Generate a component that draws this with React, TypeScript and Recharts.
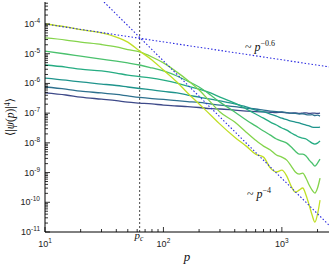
import { Line, LineChart, ReferenceLine, XAxis, YAxis } from 'recharts';

// momentum grid shared by every curve
const P = [
  10, 15, 20, 30, 40, 50, 63, 80, 100, 130, 160, 200, 250, 300, 400, 500, 600, 700,
  800, 900, 1000, 1100, 1200, 1300, 1400, 1500, 1600, 1700, 1800, 1900, 2000, 2100,
];

// log10 <|psi(p)|^4>, from top-left (yellow) to bottom-left (navy)
const LOG_C1 = [-4.0, -4.1, -4.19, -4.3, -4.44, -4.61, -4.91, -5.21, -5.55, -5.95, -6.32, -6.69, -7.06, -7.37, -7.81, -8.11, -8.38, -8.48, -8.85, -8.98, -8.92, -9.12, -9.46, -9.66, -9.59, -9.52, -9.76, -10.09, -10.43, -10.67, -10.4, -9.93];
const LOG_C2 = [-4.47, -4.54, -4.61, -4.69, -4.77, -4.86, -4.94, -5.11, -5.31, -5.62, -5.89, -6.22, -6.63, -6.96, -7.3, -7.64, -7.91, -8.11, -8.24, -8.41, -8.48, -8.58, -8.78, -8.98, -9.05, -9.02, -9.19, -9.42, -9.59, -9.69, -9.52, -9.19];
const LOG_C3 = [-4.91, -5.01, -5.08, -5.18, -5.25, -5.31, -5.38, -5.48, -5.58, -5.75, -5.92, -6.12, -6.39, -6.63, -6.96, -7.23, -7.43, -7.6, -7.74, -7.87, -7.94, -8.01, -8.14, -8.28, -8.38, -8.38, -8.44, -8.58, -8.68, -8.78, -8.68, -8.55];
const LOG_C4 = [-5.38, -5.45, -5.52, -5.58, -5.65, -5.72, -5.77, -5.82, -5.89, -5.99, -6.09, -6.19, -6.32, -6.46, -6.66, -6.86, -7.03, -7.17, -7.3, -7.4, -7.5, -7.57, -7.67, -7.74, -7.81, -7.84, -7.87, -7.94, -8.01, -8.04, -8.01, -7.94];
const LOG_C5 = [-5.82, -5.89, -5.95, -6.02, -6.07, -6.12, -6.17, -6.22, -6.27, -6.32, -6.39, -6.46, -6.53, -6.59, -6.69, -6.79, -6.9, -6.96, -7.03, -7.1, -7.17, -7.22, -7.27, -7.3, -7.33, -7.37, -7.4, -7.43, -7.47, -7.48, -7.48, -7.47];
const LOG_C6 = [-6.12, -6.19, -6.26, -6.32, -6.37, -6.42, -6.47, -6.51, -6.54, -6.58, -6.61, -6.64, -6.69, -6.73, -6.78, -6.83, -6.86, -6.9, -6.93, -6.95, -6.96, -6.98, -7.0, -7.01, -7.03, -7.02, -7.05, -7.06, -7.05, -7.08, -7.07, -7.1];
const LOG_C7 = [-6.32, -6.39, -6.46, -6.53, -6.58, -6.63, -6.66, -6.69, -6.73, -6.76, -6.78, -6.81, -6.85, -6.86, -6.9, -6.93, -6.95, -6.96, -6.97, -6.98, -6.97, -6.99, -7.0, -6.99, -7.01, -7.0, -6.99, -7.01, -7.0, -7.0, -7.01, -7.0];

const CURVES = [LOG_C7, LOG_C6, LOG_C5, LOG_C4, LOG_C3, LOG_C2, LOG_C1];
const COLORS = ['#3e4a89', '#2d708e', '#1f948c', '#25ac82', '#4ac16d', '#84d44b', '#c0df25'];

// power-law guides (end points)
const GUIDE_06 = [{ p: 10, v: 1e-4 }, { p: 2500, v: 3.6e-6 }];
const GUIDE_4 = [{ p: 31.5, v: 5.5e-4 }, { p: 2500, v: 1.7e-11 }];
const P_C = 63;

const X_MAJOR = [10, 100, 1000];
const X_MINOR = [20, 30, 40, 50, 60, 70, 80, 90, 200, 300, 400, 500, 600, 700, 800, 900, 2000];
const Y_EXP = [-11, -10, -9, -8, -7, -6, -5, -4];

const Y_MAJOR = Y_EXP.map((e) => Math.pow(10, e));
const Y_MINOR: number[] = [];
Y_EXP.forEach((e) => {
  for (let m = 2; m <= 9; m++) {
    const v = m * Math.pow(10, e);
    if (v < 5.5e-4) Y_MINOR.push(v);
  }
});

const data = P.map((p, i) => {
  const row: Record<string, number> = { p };
  CURVES.forEach((c, j) => {
    row[`c${j}`] = Math.pow(10, c[i]);
  });
  return row;
});

const TICK_FONT = '"Liberation Sans", Arial, sans-serif';
const MATH_FONT = '"Liberation Serif", "DejaVu Serif", serif';
const GUIDE_BLUE = '#2a2ae0';

const XTick = (props: any) => {
  const { x, y, payload } = props;
  const major = X_MAJOR.includes(payload.value);
  const exp = Math.round(Math.log10(payload.value));
  return (
    <g>
      <line x1={x} y1={y} x2={x} y2={y - (major ? 5 : 3)} stroke="#000" strokeWidth={0.8} />
      {major && (
        <text x={x} y={y + 15} textAnchor="middle" fontSize={9} fill="#222" fontFamily={TICK_FONT}>
          10
          <tspan dy={-4} fontSize={6.5}>{exp}</tspan>
        </text>
      )}
    </g>
  );
};

const YTick = (props: any) => {
  const { x, y, payload } = props;
  const exp = Math.round(Math.log10(payload.value));
  const major = Math.abs(Math.log10(payload.value) - exp) < 1e-6;
  return (
    <g>
      <line x1={x} y1={y} x2={x + (major ? 5 : 3)} y2={y} stroke="#000" strokeWidth={0.8} />
      {major && (
        <text x={x - 5} y={y + 3} textAnchor="end" fontSize={9} fill="#222" fontFamily={TICK_FONT}>
          10
          <tspan dy={-4} fontSize={6.5}>{exp}</tspan>
        </text>
      )}
    </g>
  );
};

export default function App() {
  return (
    <div style={{ position: 'absolute', left: 0, top: 0, width: 332, height: 269, background: '#fff' }}>
      <LineChart width={332} height={269} data={data} margin={{ top: 2, right: 3, bottom: 0, left: 0 }}>
        <XAxis
          dataKey="p"
          type="number"
          scale="log"
          domain={[10, 2500]}
          allowDataOverflow
          ticks={[...X_MAJOR, ...X_MINOR]}
          interval={0}
          tick={(props: any) => <XTick {...props} />}
          tickLine={false}
          tickSize={0}
          tickMargin={0}
          height={37}
          axisLine={{ stroke: '#000' }}
        />
        <XAxis
          xAxisId="top"
          orientation="top"
          dataKey="p"
          type="number"
          scale="log"
          domain={[10, 2500]}
          allowDataOverflow
          tick={false}
          tickLine={false}
          height={0}
          axisLine={{ stroke: '#888' }}
        />
        <YAxis
          type="number"
          scale="log"
          domain={[1e-11, 5.5e-4]}
          allowDataOverflow
          ticks={[...Y_MAJOR, ...Y_MINOR]}
          interval={0}
          tick={(props: any) => <YTick {...props} />}
          tickLine={false}
          tickSize={0}
          tickMargin={0}
          width={45}
          axisLine={{ stroke: '#000' }}
        />
        <YAxis
          yAxisId="right"
          orientation="right"
          type="number"
          scale="log"
          domain={[1e-11, 5.5e-4]}
          allowDataOverflow
          tick={false}
          tickLine={false}
          width={0}
          axisLine={{ stroke: '#888' }}
        />
        <ReferenceLine x={P_C} stroke="#333" strokeDasharray="2 2" strokeWidth={0.9} />
        {CURVES.map((_, j) => (
          <Line
            key={j}
            type="monotone"
            dataKey={`c${j}`}
            stroke={COLORS[j]}
            strokeWidth={1.3}
            dot={false}
            isAnimationActive={false}
          />
        ))}
        <Line data={GUIDE_06} dataKey="v" type="linear" stroke={GUIDE_BLUE} strokeWidth={1.1} strokeDasharray="1.5 2" dot={false} isAnimationActive={false} />
        <Line data={GUIDE_4} dataKey="v" type="linear" stroke={GUIDE_BLUE} strokeWidth={1.1} strokeDasharray="1.5 2" dot={false} isAnimationActive={false} />
      </LineChart>
      <svg width={332} height={269} style={{ position: 'absolute', left: 0, top: 0, pointerEvents: 'none' }}>
        <text
          transform="translate(14,117) rotate(-90)"
          textAnchor="middle"
          fontSize={11.5}
          fontFamily={MATH_FONT}
          fill="#111"
        >
          ⟨|<tspan fontStyle="italic">ψ</tspan>(<tspan fontStyle="italic">p</tspan>)|<tspan dy={-4} fontSize={7.5}>4</tspan><tspan dy={4}>⟩</tspan>
        </text>
        <text x={187} y={261} textAnchor="middle" fontSize={13} fontStyle="italic" fontFamily={MATH_FONT} fill="#111">
          p
        </text>
        <text x={139} y={239} textAnchor="middle" fontSize={11} fontStyle="italic" fontFamily={MATH_FONT} fill="#111">
          p<tspan dy={2} fontSize={7.5}>c</tspan>
        </text>
        <text x={245} y={51} fontSize={12} fontFamily={MATH_FONT} fill="#111">
          ~ <tspan fontStyle="italic">p</tspan>
          <tspan dy={-5} fontSize={8}>−0.6</tspan>
        </text>
        <text x={247} y={198} fontSize={12} fontFamily={MATH_FONT} fill="#111">
          ~ <tspan fontStyle="italic">p</tspan>
          <tspan dy={-5} fontSize={8}>−4</tspan>
        </text>
      </svg>
    </div>
  );
}
